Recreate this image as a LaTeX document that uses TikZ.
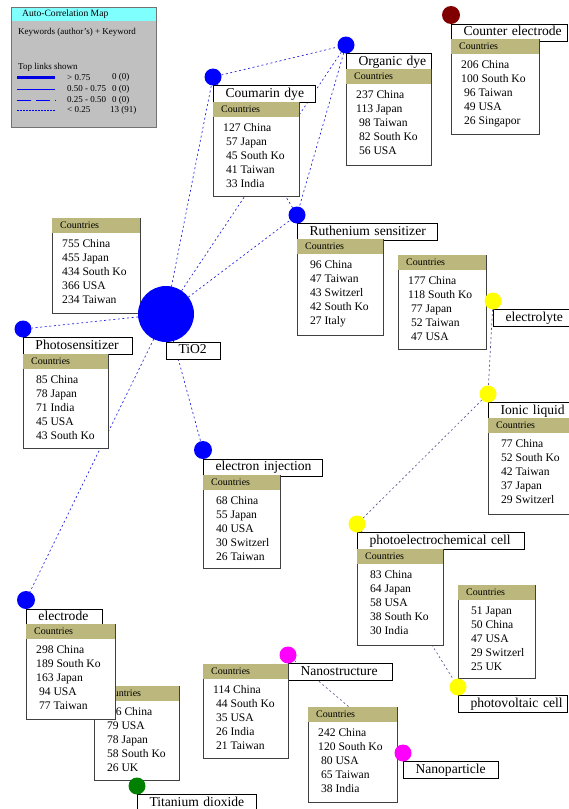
\documentclass[tikz,border=0pt]{standalone}
\usepackage{fontspec}
\setmainfont{Liberation Serif}
\pgfdeclarelayer{bg}
\pgfdeclarelayer{mid}
\pgfsetlayers{bg,mid,main}
\definecolor{nblue}{RGB}{0,0,255}
\definecolor{nyellow}{RGB}{255,255,0}
\definecolor{nmag}{RGB}{255,0,255}
\definecolor{ngreen}{RGB}{0,128,0}
\definecolor{nred}{RGB}{128,0,0}
\definecolor{hdrc}{RGB}{188,184,125}
\definecolor{lblue}{RGB}{30,30,220}
\definecolor{lgray}{RGB}{85,85,150}
\definecolor{leggray}{RGB}{192,192,192}
\definecolor{legcyan}{RGB}{128,255,255}
\newcommand{\pd}{\hspace*{2.9pt}}
\tikzset{
 kwdot/.style={circle, fill=#1, draw=none, inner sep=0pt, outer sep=0pt},
 kwlbl/.style={draw=black, fill=white, line width=0.6pt, inner xsep=0pt, inner ysep=0pt, outer sep=0pt, text width=#1, align=left, minimum height=17pt, text height=9.6pt, text depth=3.2pt, anchor=north west, font=\fontsize{13.6}{16}\selectfont},
 cntbox/.style={draw=black!75, fill=white, line width=0.6pt, inner sep=0pt, outer sep=0pt, anchor=north west},
 hdrtxt/.style={anchor=west, inner sep=0pt, font=\fontsize{10}{12}\selectfont},
 rowtxt/.style={anchor=base west, inner sep=0pt, font=\fontsize{11.6}{14}\selectfont},
 kwlink/.style={draw=#1, line width=0.65pt, dash pattern=on 2pt off 2.6pt},
 kwlink/.default=lblue,
 legtxt/.style={anchor=west, inner sep=0pt, font=\fontsize{9}{11}\selectfont},
}
\newcommand{\kw}[7]{%
 \node[kwdot=#5, minimum size=#4*2pt] (#1) at (#2,-#3) {};
 \begin{pgfonlayer}{mid}
 \node[kwlbl=#6pt] (#1-l) at (#1.south) {\hspace*{12.5pt}\mbox{#7}};
 \end{pgfonlayer}
}
\newcommand{\cnt}[6]{%
 \begin{pgfonlayer}{mid}
 \node[cntbox, minimum width=#4pt, minimum height=#5pt] (#1) at (#2,-#3) {};
 \fill[hdrc] ([shift={(0.3pt,-0.3pt)}]#1.north west) rectangle ([shift={(-0.3pt,-15pt)}]#1.north east);
 \node[hdrtxt] (#1-h) at ([shift={(8pt,-7.5pt)}]#1.north west) {Countries};
 \foreach \rowt [count=\i] in {#6} {\node[rowtxt] (#1-\i) at ([shift={(10pt,{(-15-14*\i)*1pt})}]#1.north west) {\rowt};}
 \end{pgfonlayer}
}
\begin{document}
\begin{tikzpicture}[x=1pt,y=1pt]
\useasboundingbox (0,0) rectangle (569,-809);
\begin{pgfonlayer}{bg}
\fill[white] (0,0) rectangle (569,-809);
\end{pgfonlayer}

% legend
\node[draw=black!55, line width=0.8pt, fill=leggray, minimum width=145pt, minimum height=120pt, anchor=north west, inner sep=0pt] (leg) at (11,-7) {};
\node[fill=legcyan, minimum width=144pt, minimum height=13.6pt, anchor=north west, inner sep=0pt] (legt) at ([shift={(0.4pt,-0.4pt)}]leg.north west) {};
\node[legtxt, font=\fontsize{9.6}{11}\selectfont] (legtitle) at (22,-14) {Auto-Correlation Map};
\node[legtxt] (legkw) at (18,-32) {Keywords (author's) + Keyword};
\node[legtxt] (legtop) at (18,-67) {Top links shown};
\draw[nblue!90!black, line width=3pt] (17,-77.5) -- (55,-77.5);
\draw[nblue, line width=1pt] (17,-89) -- (55,-89);
\draw[nblue, line width=1pt, dash pattern=on 14pt off 5pt] (17,-100) -- (56,-100);
\draw[nblue, line width=0.8pt, dash pattern=on 1.5pt off 1.5pt] (17,-110) -- (55,-110);
\node[legtxt] (lr1a) at (67,-77.5) {> 0.75};
\node[legtxt] (lr1b) at (112,-77.5) {0 (0)};
\node[legtxt] (lr2a) at (67,-89) {0.50 - 0.75};
\node[legtxt] (lr2b) at (112,-89) {0 (0)};
\node[legtxt] (lr3a) at (67,-100) {0.25 - 0.50};
\node[legtxt] (lr3b) at (112,-100) {0 (0)};
\node[legtxt] (lr4a) at (67,-110) {< 0.25};
\node[legtxt] (lr4b) at (110,-110) {13 (91)};

% keyword nodes: name, x, y, r, colour, label width, label
\kw{tio2}{166}{314}{28}{nblue}{54}{TiO2}
\kw{phot}{23}{329}{8.5}{nblue}{109}{Photosensitizer}
\kw{coum}{213}{77}{8.5}{nblue}{102}{Coumarin dye}
\kw{org}{346}{45}{8.5}{nblue}{85}{Organic dye}
\kw{ctr}{451}{15}{9}{nred}{116}{Counter electrode}
\kw{ruth}{297}{215}{8.5}{nblue}{140}{Ruthenium sensitizer}
\kw{ely}{493}{301}{8.5}{nyellow}{76}{electrolyte}
\kw{ion}{488}{394}{8.5}{nyellow}{82}{Ionic liquid}
\kw{pec}{357}{524}{8.5}{nyellow}{167}{photoelectrochemical cell}
\kw{pv}{458}{687}{8.5}{nyellow}{109}{photovoltaic cell}
\kw{einj}{203}{450}{9}{nblue}{119}{electron injection}
\kw{elec}{26}{600}{9}{nblue}{76}{electrode}
\kw{td}{137}{786}{8.5}{ngreen}{119}{Titanium dioxide}
\kw{ns}{288}{655}{8.5}{nmag}{104}{Nanostructure}
\kw{np}{403}{753}{8.5}{nmag}{95}{Nanoparticle}

% links
\begin{pgfonlayer}{bg}
\draw[kwlink] (tio2) -- (phot);
\draw[kwlink] (tio2) -- (coum);
\draw[kwlink] (tio2) -- (org);
\draw[kwlink] (tio2) -- (ruth);
\draw[kwlink] (tio2) -- (einj);
\draw[kwlink] (tio2) -- (elec);
\draw[kwlink] (coum) -- (org);
\draw[kwlink] (coum) -- (ruth);
\draw[kwlink] (org) -- (ruth);
\draw[kwlink=lgray] (ely) -- (ion);
\draw[kwlink=lgray] (ion) -- (pec);
\draw[kwlink=lgray] (pec) -- (pv);
\draw[kwlink=lgray] (ns) -- (np);
\end{pgfonlayer}

% country boxes: name, x, top, width, height, rows
\cnt{tio2c}{52}{218}{88}{95}{755 China, 455 Japan, 434 South Ko, 366 USA, 234 Taiwan}
\cnt{photc}{23}{354}{85}{94}{\pd 85 China, \pd 78 Japan, \pd 71 India, \pd 45 USA, \pd 43 South Ko}
\cnt{coumc}{213}{102}{86}{94}{127 China, \pd 57 Japan, \pd 45 South Ko, \pd 41 Taiwan, \pd 33 India}
\cnt{orgc}{346}{69}{85}{96}{237 China, 113 Japan, \pd 98 Taiwan, \pd 82 South Ko, \pd 56 USA}
\cnt{ctrc}{451}{39}{88}{95}{206 China, 100 South Ko, \pd 96 Taiwan, \pd 49 USA, \pd 26 Singapor}
\cnt{ruthc}{297}{239}{86}{96}{\pd 96 China, \pd 47 Taiwan, \pd 43 Switzerl, \pd 42 South Ko, \pd 27 Italy}
\cnt{elyc}{398}{255}{88}{94}{177 China, 118 South Ko, \pd 77 Japan, \pd 52 Taiwan, \pd 47 USA}
\cnt{ionc}{488}{418}{88}{96}{\pd 77 China, \pd 52 South Ko, \pd 42 Taiwan, \pd 37 Japan, \pd 29 Switzerl}
\cnt{pecc}{357}{549}{86}{96}{\pd 83 China, \pd 64 Japan, \pd 58 USA, \pd 38 South Ko, \pd 30 India}
\cnt{pvc}{458}{585}{77}{93}{\pd 51 Japan, \pd 50 China, \pd 47 USA, \pd 29 Switzerl, \pd 25 UK}
\cnt{einjc}{203}{475}{77}{93}{\pd 68 China, \pd 55 Japan, \pd 40 USA, \pd 30 Switzerl, \pd 26 Taiwan}
\cnt{tdc}{94}{686}{85}{94}{106 China, \pd 79 USA, \pd 78 Japan, \pd 58 South Ko, \pd 26 UK}
\cnt{elecc}{26}{624}{89}{95}{298 China, 189 South Ko, 163 Japan, \pd 94 USA, \pd 77 Taiwan}
\cnt{nsc}{203}{664}{85}{94}{114 China, \pd 44 South Ko, \pd 35 USA, \pd 26 India, \pd 21 Taiwan}
\cnt{npc}{308}{707}{89}{95}{242 China, 120 South Ko, \pd 80 USA, \pd 65 Taiwan, \pd 38 India}
\end{tikzpicture}
\end{document}
